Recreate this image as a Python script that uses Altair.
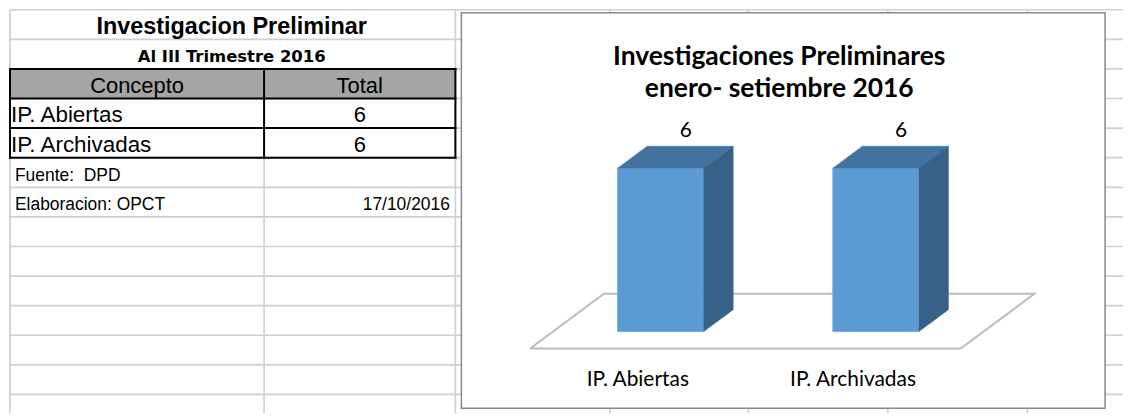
import altair as alt
import pandas as pd

# ---------------- data ----------------
concepts = ["IP. Abiertas", "IP. Archivadas"]
totals = [6, 6]
sheet_title = "Investigacion Preliminar"
sheet_subtitle = "Al III Trimestre 2016"
header_labels = ["Concepto", "Total"]
source_note = "Fuente:\u00a0 DPD"
author_note = "Elaboracion: OPCT"
date_note = "17/10/2016"
chart_title_lines = ["Investigaciones Preliminares", "enero- setiembre 2016"]

# ---------------- layout (page pixels) ----------------
W, H = 1116, 404
OX, OY = 8, 8
RIGHT, BOTTOM = OX + W, OY + H
COLS = [7, 262, 454, 609, 748, 888, 1028]
ROW0, ROW_H, N_ROWS = 7.0, 29.7, 14
FRAME = dict(x=460, x2=1106, y=10, y2=407)


def rt(r):
    return ROW0 + ROW_H * r


xs = alt.Scale(domain=[OX, RIGHT], range=[0, W], nice=False, zero=False)
ys = alt.Scale(domain=[OY, BOTTOM], range=[0, H], nice=False, zero=False)


def px_enc(ch, two=True):
    enc = dict(x=alt.X("x:Q", scale=xs, axis=None), y=alt.Y("y:Q", scale=ys, axis=None))
    if two:
        enc.update(x2="x2:Q", y2="y2:Q")
    return ch.encode(**enc)


# spreadsheet gridlines
grid = [dict(x=COLS[0], x2=RIGHT, y=rt(r), y2=rt(r)) for r in range(N_ROWS)]
grid += [dict(x=c, x2=c, y=(rt(2) if c == COLS[1] else ROW0), y2=BOTTOM) for c in COLS]
grid_layer = px_enc(alt.Chart(pd.DataFrame(grid)).mark_rule(color="#d0d0d0", strokeWidth=1.7))

# table header fill
hdr = pd.DataFrame([dict(x=COLS[0], x2=COLS[2], y=rt(2), y2=rt(3))])
hdr_layer = px_enc(alt.Chart(hdr).mark_rect(color="#a5a5a5"))

# table borders
bl = [dict(x=COLS[0], x2=COLS[2], y=rt(r), y2=rt(r)) for r in (2, 3, 4, 5)]
bl += [dict(x=c, x2=c, y=rt(2), y2=rt(5)) for c in COLS[:3]]
border_layer = px_enc(alt.Chart(pd.DataFrame(bl)).mark_rule(color="#000000", strokeWidth=2, strokeCap="square"))

# chart frame
frame_layer = px_enc(alt.Chart(pd.DataFrame([FRAME])).mark_rect(fill="white", stroke="#888888", strokeWidth=1.5))


def text_layer(rows, **kw):
    df = pd.DataFrame(rows)
    return px_enc(alt.Chart(df).mark_text(baseline="alphabetic", **kw), two=False).encode(text="text:N")


colA = (COLS[0] + COLS[1]) / 2
colB = (COLS[1] + COLS[2]) / 2
tbl_mid = (COLS[0] + COLS[2]) / 2

t_title = text_layer([dict(x=tbl_mid - 1, y=rt(0) + 24.5, text=sheet_title)],
                     font="Liberation Sans", fontSize=23.5, fontWeight="bold", align="center", color="#000")
t_sub = text_layer([dict(x=tbl_mid - 1, y=rt(1) + 22.6, text=sheet_subtitle)],
                   font="DejaVu Sans", fontSize=16.5, fontWeight="bold", align="center", color="#000")
t_center = text_layer(
    [dict(x=colA, y=rt(2) + 24.3, text=header_labels[0]), dict(x=colB, y=rt(2) + 24.3, text=header_labels[1])]
    + [dict(x=colB, y=rt(3 + i) + 24, text=str(v)) for i, v in enumerate(totals)],
    font="Liberation Sans", fontSize=22, align="center", color="#000")
t_left = text_layer([dict(x=COLS[0] + 1, y=rt(3 + i) + 24, text=c) for i, c in enumerate(concepts)],
                    font="Liberation Sans", fontSize=22.5, align="left", color="#000")
t_notes = text_layer([dict(x=COLS[0] + 5, y=rt(5) + 23, text=source_note),
                      dict(x=COLS[0] + 5, y=rt(6) + 23, text=author_note)],
                     font="Liberation Sans", fontSize=17.5, align="left", color="#000")
t_date = text_layer([dict(x=COLS[2] - 5.5, y=rt(6) + 23, text=date_note)],
                    font="Liberation Sans", fontSize=17.5, align="right", color="#000")
t_ctitle = text_layer([dict(x=779, y=62, text=chart_title_lines[0]), dict(x=779, y=95, text=chart_title_lines[1])],
                      font="Lato", fontSize=26.5, fontWeight="bold", align="center", color="#000")

sheet = alt.layer(grid_layer, hdr_layer, border_layer, frame_layer,
                  t_title, t_sub, t_center, t_left, t_notes, t_date, t_ctitle)

# ---------------- 3-D bar chart (slot / value units) ----------------
PX_PER_V = 164 / 6
xb = alt.Scale(domain=[-0.5, 1.5], range=[552 - OX, 984 - OX], nice=False, zero=False)
yb = alt.Scale(domain=[0, 7], range=[330 - OY, 330 - OY - 7 * PX_PER_V], nice=False, zero=False)
KX = 74 / 216.0          # slot units per unit of floor depth
KY = 55 / PX_PER_V       # value units per unit of floor depth
BAR_W = 0.4
Z_BACK = 0.4
Z_FF, Z_FB = -0.31, 0.69
LABEL_Z = 0.34

slots = list(range(len(concepts)))


def b_enc(ch, x2=False, y2=False):
    enc = dict(x=alt.X("x:Q", scale=xb, axis=None), y=alt.Y("y:Q", scale=yb, axis=None))
    if x2:
        enc["x2"] = "x2:Q"
    if y2:
        enc["y2"] = "y2:Q"
    return ch.encode(**enc)


front = pd.DataFrame([dict(x=s - BAR_W / 2, x2=s + BAR_W / 2, y=0, y2=v) for s, v in zip(slots, totals)])
top = pd.DataFrame(
    [dict(b=s, y=v, x=s - BAR_W / 2, x2=s + BAR_W / 2) for s, v in zip(slots, totals)]
    + [dict(b=s, y=v + Z_BACK * KY, x=s - BAR_W / 2 + Z_BACK * KX, x2=s + BAR_W / 2 + Z_BACK * KX)
       for s, v in zip(slots, totals)])
side = pd.DataFrame(
    [dict(b=s, x=s + BAR_W / 2, y=0, y2=v) for s, v in zip(slots, totals)]
    + [dict(b=s, x=s + BAR_W / 2 + Z_BACK * KX, y=Z_BACK * KY, y2=v + Z_BACK * KY) for s, v in zip(slots, totals)])

lo, hi = -0.5, len(concepts) - 0.5
floor_pts = [(lo, Z_FF), (hi, Z_FF), (hi, Z_FB), (lo, Z_FB), (lo, Z_FF)]
floor = pd.DataFrame([dict(i=i, x=s + z * KX, y=z * KY) for i, (s, z) in enumerate(floor_pts)])

floor_layer = b_enc(alt.Chart(floor).mark_line(color="#bcbcbc", strokeWidth=2)).encode(order="i:Q")
front_layer = b_enc(alt.Chart(front).mark_rect(color="#5b9bd5", stroke="#79acdd", strokeWidth=1), x2=True, y2=True)
top_layer = b_enc(alt.Chart(top).mark_area(orient="horizontal", color="#4273a0", stroke="#4273a0",
                                           strokeWidth=0.5), x2=True).encode(detail="b:N")
side_layer = b_enc(alt.Chart(side).mark_area(orient="vertical", color="#386187", stroke="#386187",
                                             strokeWidth=0.5), y2=True).encode(detail="b:N")

vlab = pd.DataFrame([dict(x=s + LABEL_Z * KX, y=v + Z_BACK * KY, text=str(v)) for s, v in zip(slots, totals)])
vlab_layer = b_enc(alt.Chart(vlab).mark_text(font="Lato", fontSize=21, baseline="alphabetic", dy=-9,
                                              color="#000")).encode(text="text:N")
clab = pd.DataFrame([dict(x=s + Z_FF * KX, y=Z_FF * KY, text=c) for s, c in zip(slots, concepts)])
clab_layer = b_enc(alt.Chart(clab).mark_text(font="Lato", fontSize=21, baseline="alphabetic", dy=38,
                                              color="#000")).encode(text="text:N")

bars = alt.layer(floor_layer, front_layer, top_layer, side_layer, vlab_layer, clab_layer)

chart = (
    alt.layer(sheet, bars)
    .resolve_scale(x="independent", y="independent")
    .properties(width=W, height=H, padding=0, background="white")
    .configure_view(stroke=None)
)

chart.save("out.html", embed_options={"renderer": "svg", "actions": False})
